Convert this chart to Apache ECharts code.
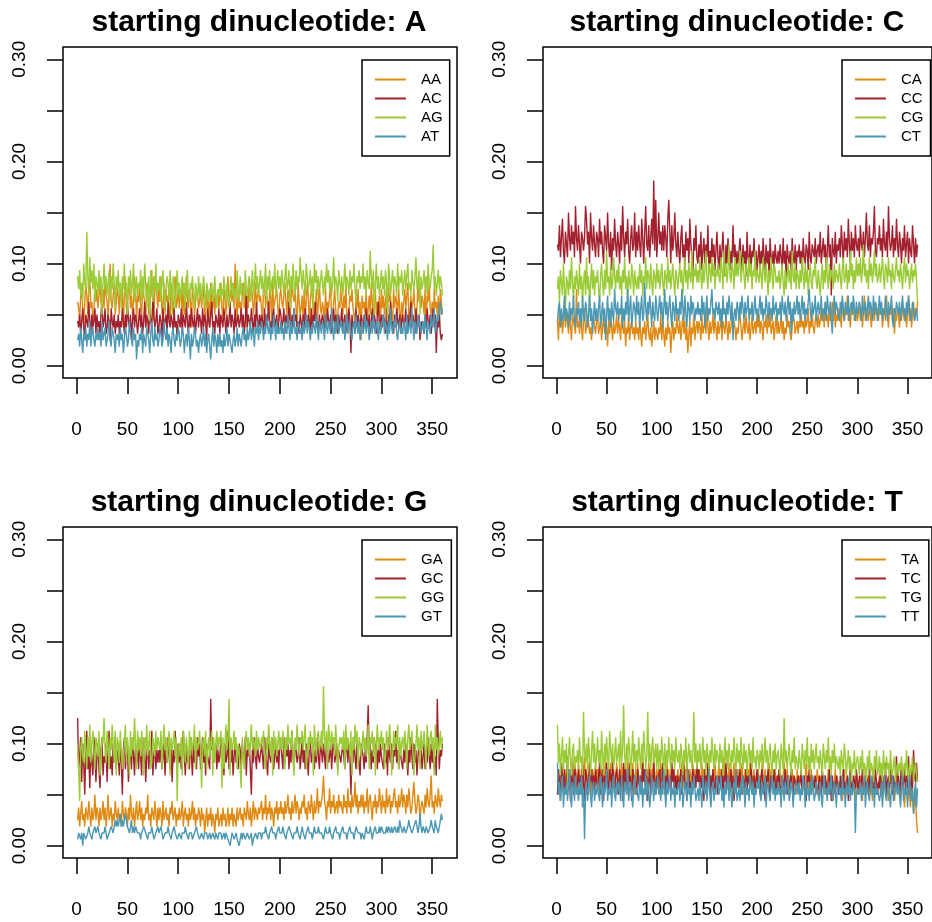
<!DOCTYPE html>
<html>
<head>
<meta charset="utf-8">
<script src="https://cdn.jsdelivr.net/npm/echarts@6/dist/echarts.min.js"></script>
<style>
  html, body { margin: 0; padding: 0; background: #fff; }
  #chart { width: 932px; height: 922px; }
</style>
</head>
<body>
<div id="chart"></div>
<script>
// Dinucleotide counts per sliding window (window of 160 dinucleotides),
// one value per window position 1..360.
const WINDOW = 160;

const xTicks = [0, 50, 100, 150, 200, 250, 300, 350];
const yTicks = [0, 0.05, 0.1, 0.15, 0.2, 0.25, 0.3];
const yLabels = [0, 0.1, 0.2, 0.3];

const lineColors = ['#E08A13', '#A3212F', '#9BCB36', '#4A98B3'];

// ---- starting dinucleotide: A ----
const AA = [
10,9,7,11,12,9,6,10,13,11,8,12,14,9,10,7,8,13,10,12,
9,11,13,10,8,12,9,14,11,10,7,12,16,10,9,11,13,8,10,12,
11,8,13,10,12,6,11,14,9,10,12,13,9,11,8,10,14,12,7,11,
10,13,9,8,12,11,10,6,13,12,8,10,11,15,9,7,12,13,11,9,
12,10,14,8,9,13,8,12,10,11,9,7,13,10,8,11,14,9,10,12,
9,11,12,7,13,8,10,14,11,9,12,10,6,13,11,8,10,12,11,9,
10,12,9,11,13,7,8,12,9,10,6,13,10,9,12,8,11,10,12,9,
11,13,9,7,12,11,8,10,14,9,11,12,10,13,9,16,10,7,12,9,
10,8,11,13,9,12,6,11,9,14,10,12,11,8,10,13,9,11,12,10,
11,9,7,12,13,9,11,10,8,12,11,6,13,9,10,11,12,9,7,11,
12,10,9,11,13,10,8,12,11,7,10,14,11,10,12,9,6,13,10,8,
9,11,7,12,8,10,13,11,6,10,12,11,8,10,9,12,7,10,13,9,
8,10,9,6,12,8,10,9,11,13,7,8,10,12,9,6,8,10,9,12,
10,8,11,9,13,7,8,9,11,10,12,9,8,6,11,9,12,8,10,4,
11,9,10,8,12,6,9,11,8,13,10,7,11,12,8,10,9,11,6,12,
9,11,8,10,12,7,13,10,11,8,6,12,9,11,10,8,12,9,5,10,
8,10,12,9,11,13,7,8,11,9,10,12,8,6,9,13,10,12,9,11,
10,8,12,6,11,10,13,9,8,10,7,12,9,10,8,11,6,12,10,8
];
const AC = [
7,6,8,5,7,9,6,4,8,7,6,10,7,5,8,6,7,9,5,8,
6,7,5,8,10,6,7,9,5,6,8,7,4,9,7,6,8,5,7,6,
8,5,7,6,9,7,5,8,6,10,7,6,8,4,7,9,6,8,7,5,
7,9,6,8,5,7,10,6,8,7,5,9,7,6,11,8,6,7,9,5,
6,8,7,4,9,6,7,8,5,10,7,6,8,7,5,9,6,7,4,8,
7,6,9,5,8,7,6,10,7,5,8,6,9,7,6,8,5,7,9,6,
8,7,5,9,6,8,7,4,9,7,6,8,10,6,7,5,8,7,6,9,
5,8,7,6,9,7,5,8,6,7,10,6,8,7,5,9,6,7,8,6,
7,9,6,8,5,7,11,6,8,7,6,9,7,5,8,6,10,7,6,8,
6,8,7,5,9,6,8,7,10,6,7,5,8,9,6,7,8,5,7,9,
8,6,7,9,5,8,7,6,10,7,5,8,6,9,7,8,6,7,5,8,
7,5,8,6,9,7,6,8,7,5,9,6,8,7,10,6,7,5,8,6,
6,8,7,5,8,6,9,7,6,8,5,7,9,6,8,7,5,8,6,7,
9,6,7,8,5,7,6,9,7,2,8,6,7,5,9,6,8,7,6,8,
7,5,8,6,9,7,6,8,5,7,9,6,8,7,5,8,10,6,7,8,
6,8,7,5,9,6,8,7,10,6,7,5,8,6,9,7,6,8,5,7,
8,6,7,9,5,8,6,7,10,6,8,7,5,9,6,7,8,4,6,7,
7,5,8,6,9,7,6,8,5,7,9,6,8,2,7,6,8,5,4,5
];
const AG = [
14,12,15,11,13,10,16,13,12,21,14,11,17,13,15,12,16,10,14,13,
11,15,12,14,8,13,16,12,14,11,13,15,10,14,12,16,13,9,14,12,
15,11,13,9,14,12,16,11,13,8,14,12,15,11,13,16,10,12,14,11,
13,12,15,10,14,11,16,13,9,12,14,7,15,13,10,14,12,16,11,13,
12,14,10,13,15,11,9,12,14,13,10,15,12,8,14,13,9,12,15,11,
13,10,12,14,11,13,9,12,15,11,10,13,12,14,11,9,13,12,10,14,
11,13,10,12,14,11,9,13,12,10,12,11,13,10,12,14,11,9,12,11,
13,10,12,11,14,12,10,13,11,9,12,14,11,13,10,12,11,15,12,10,
14,11,13,12,10,15,12,11,13,14,10,12,15,11,13,16,12,14,11,13,
15,12,14,11,13,16,10,14,12,15,11,13,14,12,16,11,13,15,12,14,
12,15,13,11,14,16,12,13,15,9,14,12,16,13,11,15,12,14,13,17,
14,12,15,13,11,16,14,12,13,15,11,14,9,16,13,15,11,14,12,13,
15,13,11,14,12,16,13,15,12,14,11,13,17,12,14,13,10,15,13,12,
14,11,13,16,12,14,13,11,15,12,14,13,16,12,10,14,13,15,12,14,
13,16,12,14,11,15,13,12,18,14,12,15,8,13,16,12,14,11,13,15,
12,14,11,15,13,7,16,14,11,13,15,12,14,13,11,16,12,14,13,15,
11,13,15,12,14,16,12,13,11,15,13,12,14,17,12,13,15,8,14,12,
13,15,12,14,11,16,13,12,14,15,19,12,14,11,13,15,12,14,13,11
];
const AT = [
4,5,3,6,4,2,5,4,6,3,5,4,7,3,5,6,4,3,5,4,
6,4,5,3,7,4,5,6,3,4,5,7,4,3,6,5,4,2,5,4,
5,3,6,4,5,2,4,6,5,3,4,7,5,4,3,6,4,5,1,4,
3,5,4,6,2,5,4,3,6,5,4,2,5,7,4,3,6,4,5,3,
4,6,5,3,4,7,5,4,6,3,5,4,2,5,6,4,3,5,4,6,
5,3,4,6,5,2,4,5,3,6,4,1,5,3,4,6,5,3,4,2,
4,5,3,4,6,3,5,2,4,5,3,1,4,6,3,5,4,2,5,3,
5,3,4,2,5,3,4,6,3,5,4,3,2,4,5,3,4,6,3,5,
4,3,5,6,4,5,3,6,4,5,7,4,6,5,3,6,5,7,4,6,
5,7,6,4,6,5,8,6,5,7,4,6,5,8,6,4,7,5,6,5,
7,5,6,4,7,6,5,8,6,4,7,5,6,9,5,6,4,7,6,5,
6,4,7,5,6,8,5,7,6,4,6,5,7,6,5,8,6,4,7,6,
5,7,6,4,8,6,5,7,6,5,9,6,4,7,5,6,8,5,6,7,
6,5,7,4,6,8,5,6,7,5,4,6,7,5,8,6,5,7,4,6,
7,5,6,8,5,7,6,4,6,7,5,8,6,5,7,6,4,7,5,6,
6,8,5,7,6,4,7,5,9,6,5,7,6,8,5,4,6,7,5,6,
5,7,6,4,8,5,6,7,5,9,6,4,7,6,5,8,6,7,5,6,
7,5,8,6,4,7,6,5,8,6,7,9,5,6,8,7,9,10,8,9
];

// ---- starting dinucleotide: C ----
const CA = [
7,4,9,6,8,5,7,10,6,8,7,5,9,6,4,8,7,6,5,12,
6,7,5,8,6,4,7,9,5,6,8,7,5,6,4,7,8,6,5,7,
8,5,6,7,4,6,8,5,7,6,3,7,5,8,6,4,7,5,6,8,
5,7,6,4,8,6,5,7,3,6,5,8,4,6,7,5,6,4,7,5,
6,4,7,5,3,6,5,7,4,6,8,5,4,6,3,5,7,4,6,5,
4,6,5,8,4,7,5,3,6,4,7,5,6,2,5,7,4,6,5,8,
6,5,7,4,6,8,5,7,4,6,2,5,7,3,6,5,8,4,6,7,
5,7,6,4,8,5,6,7,5,9,6,4,7,5,6,8,5,7,6,4,
7,5,6,8,4,7,6,5,8,6,4,7,5,6,9,5,7,6,4,6,
5,7,8,6,4,6,7,5,8,6,5,7,4,6,8,5,6,7,5,8,
6,8,5,7,6,4,7,6,8,5,7,6,9,5,6,7,4,6,8,5,
7,5,6,8,5,7,4,6,5,8,6,7,5,4,6,8,7,5,6,7,
5,7,6,8,6,7,5,8,6,7,9,5,7,6,8,6,5,7,8,6,
8,6,7,9,7,8,6,10,7,8,6,9,7,8,10,7,9,6,8,7,
9,7,8,6,10,8,7,9,8,11,7,8,6,9,8,10,7,9,8,7,
8,10,7,9,6,8,11,7,9,8,7,10,8,6,9,8,7,10,8,9,
7,9,8,10,6,8,9,7,11,8,6,9,8,10,7,9,5,8,7,9,
8,6,9,7,10,8,7,9,6,8,11,7,9,6,8,10,7,9,8,10
];
const CC = [
19,18,22,17,20,23,18,16,21,19,17,24,20,18,22,19,21,17,25,20,
18,22,19,16,21,20,18,20,25,23,19,21,16,24,20,18,22,19,17,21,
20,17,23,19,21,18,16,22,20,18,24,19,17,21,15,20,18,23,19,17,
21,19,16,22,18,25,20,17,21,19,23,18,16,20,22,18,19,24,17,21,
18,22,19,17,23,20,16,21,25,19,18,22,17,20,23,19,29,18,26,17,
20,24,19,21,18,22,18,22,20,17,23,26,21,16,22,18,20,24,19,17,
21,18,16,20,22,17,19,15,21,18,20,16,23,19,17,14,20,18,22,17,
16,19,17,21,15,18,20,16,19,17,22,15,18,16,20,17,19,15,18,21,
17,15,19,16,18,21,17,14,19,16,20,17,15,18,16,22,17,19,15,18,
16,18,20,17,15,19,16,18,14,21,17,16,19,15,18,17,20,16,18,15,
17,19,15,18,16,20,17,15,19,16,18,14,20,17,16,18,15,19,17,16,
18,16,19,17,15,20,16,18,14,19,17,16,18,15,20,17,16,19,15,18,
17,19,16,18,15,20,17,16,19,18,15,21,17,16,19,18,17,20,16,18,
19,17,21,16,18,20,17,19,15,18,22,17,19,11,20,18,17,21,16,19,
18,20,17,22,19,16,21,18,20,17,23,19,16,21,18,20,17,22,19,18,
20,17,22,19,18,21,17,20,24,19,18,22,17,20,19,21,25,18,17,20,
19,22,18,20,17,23,19,18,21,17,25,20,18,19,22,17,20,18,23,19,
17,21,19,16,20,18,22,17,19,21,16,20,18,17,22,19,16,20,17,19
];
const CG = [
12,14,10,15,13,11,16,12,9,14,13,11,15,12,17,13,10,14,12,15,
13,11,16,12,14,10,13,15,11,17,12,14,9,13,16,12,15,11,14,13,
15,12,10,14,16,13,11,15,12,18,13,14,11,16,12,13,17,14,12,15,
13,16,12,14,11,15,13,17,12,14,10,15,13,12,16,14,11,15,13,12,
14,12,16,13,15,11,14,13,17,12,15,14,12,16,13,11,15,14,12,16,
13,15,12,14,16,13,11,15,14,12,17,13,15,12,14,16,13,11,15,14,
12,14,16,13,15,11,14,17,13,15,12,16,14,13,18,12,15,14,16,13,
15,13,17,14,12,16,13,15,18,14,12,16,15,13,17,14,16,12,15,14,
16,14,13,17,15,12,18,14,16,13,15,19,14,13,16,15,12,17,14,16,
14,16,18,13,15,17,14,12,16,15,13,17,14,16,12,15,14,18,13,15,
15,13,16,14,12,17,15,13,16,14,11,15,13,17,14,12,16,15,13,14,
13,15,12,14,16,13,11,15,12,14,16,13,15,12,18,14,13,16,12,15,
14,12,15,13,17,14,12,16,13,15,11,14,16,13,12,15,14,17,13,12,
15,13,11,14,16,12,15,13,17,14,12,16,13,15,14,12,16,13,15,14,
13,16,14,12,15,17,13,14,16,12,15,13,18,14,16,12,15,13,17,14,
16,14,17,13,15,19,14,16,13,15,12,17,14,16,13,15,18,14,16,13,
14,16,13,15,17,14,12,16,15,13,17,14,15,12,16,14,13,15,17,14,
15,13,16,14,12,15,17,13,16,14,15,12,14,16,13,15,14,16,13,10
];
const CT = [
7,9,10,6,9,7,8,11,7,9,8,6,10,7,9,8,11,7,6,9,
8,10,7,9,6,11,8,7,10,9,6,8,11,7,9,5,8,10,7,9,
7,9,11,6,8,10,7,9,4,8,11,7,9,6,10,8,7,12,9,8,
10,7,9,8,11,6,9,7,10,8,12,7,9,11,6,8,10,9,7,11,
8,10,6,9,11,7,8,13,9,7,10,8,11,9,6,10,8,7,11,9,
7,9,11,8,10,6,9,12,8,10,7,9,11,8,6,10,9,7,11,8,
9,7,10,8,12,9,7,11,8,6,10,9,7,11,8,10,9,7,9,8,
10,8,9,7,11,8,10,6,9,11,7,9,8,10,12,8,9,7,10,9,
8,10,7,9,6,11,8,9,7,10,8,11,9,7,10,4,8,9,7,10,
9,7,10,8,11,9,7,10,8,9,11,7,9,8,10,7,9,11,8,9,
7,9,11,8,10,7,9,8,11,9,7,10,8,9,7,11,8,9,10,7,
9,8,10,7,11,9,8,10,7,9,11,8,10,5,9,7,10,8,9,11,
8,10,7,9,11,8,10,7,9,8,10,12,9,7,10,8,9,11,7,9,
10,8,9,11,7,9,8,10,7,11,9,8,10,7,5,9,11,8,10,9,
9,7,10,8,11,9,7,10,9,8,11,7,9,10,8,11,9,7,10,8,
8,10,9,7,11,8,9,10,7,9,11,8,10,9,7,11,8,10,9,7,
9,11,8,10,7,9,8,11,9,7,10,8,9,11,7,6,9,8,10,9,
8,10,7,9,11,8,9,7,10,8,11,9,7,8,10,9,7,8,9,7
];

// ---- starting dinucleotide: G ----
const GA = [
4,6,3,5,7,4,5,3,6,5,4,7,5,3,6,4,5,8,4,6,
5,3,6,4,5,7,4,6,3,5,8,4,5,6,3,5,4,7,5,4,
6,4,5,3,7,5,4,6,5,3,6,4,8,5,4,6,3,5,7,4,
5,7,4,6,3,5,4,6,5,8,4,5,3,6,5,4,7,5,3,6,
4,6,5,3,7,4,5,6,4,5,3,6,5,7,4,5,6,3,5,4,
6,4,5,7,3,5,6,4,5,3,6,4,5,7,4,6,3,5,4,6,
5,3,6,4,5,2,4,6,3,5,4,6,3,5,4,2,5,4,6,3,
4,5,3,6,4,5,3,4,6,3,5,4,6,3,5,4,3,6,4,5,
6,4,5,3,6,5,4,7,5,4,6,3,5,7,4,6,5,4,6,5,
5,7,4,6,5,8,4,6,5,7,4,6,5,3,6,5,7,4,6,5,
7,5,6,4,7,5,6,8,5,6,4,7,5,6,8,5,7,6,4,6,
5,7,6,8,5,6,4,7,6,5,8,6,4,7,5,6,9,5,7,6,
6,8,11,7,6,4,7,6,9,5,7,6,8,5,6,7,5,8,6,7,
7,5,8,6,7,5,9,6,7,5,8,6,7,10,6,8,5,7,6,8,
6,8,5,7,6,9,5,7,8,6,4,7,6,8,5,7,6,9,7,5,
8,6,7,5,9,6,7,8,5,7,6,8,9,6,7,5,8,6,7,9,
6,8,7,5,8,6,9,7,5,6,8,10,7,5,6,8,7,4,6,7,
7,5,8,6,9,7,6,8,11,6,7,5,8,7,6,9,7,6,8,7
];
const GC = [
20,12,14,17,10,16,13,8,15,18,12,14,9,16,13,11,17,15,10,14,
16,12,9,15,17,11,14,13,16,10,15,18,12,14,11,16,13,17,12,15,
14,11,16,13,8,15,17,12,14,16,10,13,15,12,17,14,11,16,13,15,
12,16,14,11,17,13,15,10,14,16,12,15,13,18,11,14,16,12,15,13,
15,13,17,12,14,16,11,15,13,17,14,12,16,10,15,13,18,14,12,16,
13,16,12,15,18,14,11,16,13,15,12,17,14,11,16,13,15,12,17,14,
16,12,14,17,13,15,11,16,14,13,12,23,15,17,13,14,16,12,15,13,
14,17,13,15,11,16,13,14,18,12,15,13,16,11,14,17,13,15,12,16,
15,12,16,14,13,17,11,15,14,16,12,8,15,13,17,14,12,16,14,13,
13,16,14,12,17,15,13,11,16,14,13,17,15,12,14,16,13,15,12,17,
16,14,12,17,13,15,14,16,12,15,13,18,14,12,16,15,13,14,17,12,
14,17,13,15,12,16,14,11,15,17,13,14,16,12,15,13,17,14,12,16,
15,13,16,14,12,17,15,13,14,16,12,15,17,13,14,16,12,15,14,13,
13,16,14,12,17,15,13,16,14,8,15,13,17,14,12,16,15,13,11,16,
16,14,12,15,13,17,22,14,16,12,15,13,17,14,16,12,15,13,16,14,
14,12,16,13,15,11,17,14,13,16,12,15,14,18,13,15,12,16,14,13,
12,15,13,16,14,11,15,13,17,14,12,16,13,15,11,14,16,13,15,12,
14,16,12,15,13,17,14,12,16,13,15,12,14,11,23,16,12,15,14,16
];
const GG = [
16,12,7,15,17,14,13,18,15,12,17,14,19,13,16,18,15,12,17,16,
14,18,11,13,17,16,20,15,13,18,16,12,17,15,19,16,13,18,11,17,
16,13,18,15,12,14,16,19,13,17,15,11,18,14,17,15,20,16,12,18,
15,17,14,18,16,11,17,15,19,14,16,18,12,13,17,16,14,18,15,17,
17,15,18,12,16,19,15,17,13,16,18,11,17,15,16,18,14,17,7,15,
16,14,17,11,18,16,13,17,15,12,18,14,17,15,16,19,12,17,15,16,
18,15,9,16,17,14,18,12,15,17,14,16,18,11,17,13,16,18,15,17,
16,18,9,17,12,16,19,15,17,23,11,17,15,16,18,15,17,12,16,15,
15,9,17,14,12,16,18,15,17,14,16,19,15,17,16,14,18,15,17,16,
15,17,16,18,14,12,17,15,19,16,14,17,11,18,15,17,14,16,18,15,
17,15,18,16,12,17,15,19,16,17,15,18,14,11,17,15,19,16,14,17,
16,18,15,17,19,12,14,17,15,18,16,17,11,19,16,14,17,18,15,16,
18,15,25,17,15,18,12,19,17,15,18,16,17,14,19,16,11,15,17,16,
17,15,18,12,19,15,17,16,14,18,11,17,15,19,16,18,12,17,16,14,
16,18,15,17,14,16,19,12,17,16,18,14,17,11,16,19,15,17,16,18,
15,17,12,14,18,16,15,19,17,11,14,18,15,17,16,19,12,17,14,16,
17,15,18,16,12,17,19,15,16,18,15,11,14,16,19,15,17,12,18,15,
16,18,15,12,19,16,14,17,18,15,17,11,19,15,17,14,16,18,15,17
];
const GT = [
1,2,2,1,2,0,2,2,1,1,2,3,2,2,1,2,2,3,2,2,
3,2,2,1,2,2,2,3,2,1,1,2,2,3,3,2,3,4,3,4,
3,4,5,3,4,3,4,5,4,3,3,2,3,4,2,3,2,3,3,2,
2,2,1,2,2,3,3,2,2,1,2,2,2,3,2,1,1,2,2,3,
2,2,3,2,1,1,2,2,2,3,2,2,1,2,2,3,2,2,1,1,
2,2,1,2,2,2,3,2,2,1,2,2,2,1,1,2,2,3,2,2,
1,1,2,2,1,2,2,2,1,1,2,1,1,2,2,1,2,2,1,2,
2,2,1,1,2,1,2,2,1,1,0,1,2,2,1,1,2,1,1,0,
1,2,1,2,2,1,1,2,2,1,1,2,0,1,1,2,2,1,2,2,
2,1,2,2,2,3,2,2,1,2,2,3,2,2,2,1,2,2,3,2,
2,2,3,2,2,1,2,2,3,3,2,2,1,2,2,2,3,2,2,1,
2,3,2,2,1,2,2,3,2,2,2,1,2,3,2,2,2,3,2,2,
2,2,1,2,3,2,2,2,3,2,2,1,2,2,3,2,2,2,1,2,
2,3,2,2,2,1,2,2,3,2,2,2,1,2,3,3,2,2,2,1,
2,2,1,2,3,2,2,2,3,2,1,2,2,3,2,2,2,3,2,3,
3,2,2,2,3,2,3,3,2,3,2,2,3,3,2,3,2,4,3,3,
2,3,3,2,2,3,4,3,3,2,2,3,3,4,3,2,3,5,3,2,
3,3,2,3,3,2,2,3,4,3,3,2,4,3,3,2,3,3,5,4
];

// ---- starting dinucleotide: T ----
const TA = [
10,12,9,11,13,10,8,12,11,9,13,10,12,9,11,14,10,8,12,11,
9,13,11,10,12,8,11,14,10,12,9,11,13,10,8,12,11,9,13,10,
12,10,8,13,11,9,12,10,14,11,9,12,10,13,8,11,12,10,9,13,
11,9,12,10,13,11,8,12,10,9,14,11,10,12,9,13,11,8,12,10,
13,10,11,9,12,14,10,11,8,12,10,13,11,9,12,10,15,11,9,12,
10,12,9,13,11,10,12,8,11,14,10,12,9,11,13,10,12,9,11,10,
12,9,11,10,13,11,9,12,10,14,11,9,12,10,11,13,9,12,10,11,
10,12,11,9,13,10,12,8,11,10,12,14,10,11,9,12,10,13,11,9,
11,13,10,12,9,11,14,10,12,11,9,13,10,12,8,11,13,10,9,12,
10,12,9,11,13,10,8,12,11,9,12,10,13,9,11,10,12,8,11,10,
12,10,11,9,13,11,10,12,8,11,10,13,9,12,10,11,9,12,10,8,
11,9,12,10,8,11,13,10,9,12,10,8,11,10,12,9,11,10,8,12,
9,11,10,12,8,10,9,11,13,10,8,11,9,12,10,8,11,9,10,12,
10,8,11,9,12,10,8,11,10,9,12,8,10,11,9,7,10,12,9,11,
8,10,9,11,7,10,12,9,8,11,10,9,12,8,10,9,11,7,10,9,
10,8,11,9,7,10,9,12,8,10,11,9,8,10,7,11,9,10,8,9,
9,11,8,10,7,9,11,8,10,9,7,10,12,8,9,10,7,9,11,8,
8,10,7,9,11,8,6,9,10,7,9,8,6,10,8,5,9,7,4,2
];
const TC = [
8,12,10,7,13,11,9,12,8,10,14,9,11,7,12,10,8,13,11,9,
10,12,8,11,9,13,10,7,12,11,9,8,13,10,12,9,11,8,12,10,
9,11,13,8,10,12,7,11,9,13,10,8,12,11,9,14,10,8,11,12,
10,8,12,9,11,7,13,10,12,8,11,9,13,10,7,12,11,9,10,8,
12,10,9,11,8,13,10,12,9,11,7,10,12,8,11,9,13,10,8,11,
9,11,12,8,10,13,9,11,7,12,10,9,11,8,13,10,12,9,11,8,
11,9,10,12,8,11,13,9,10,7,12,11,9,10,8,12,10,11,9,13,
10,12,8,11,9,10,7,12,11,9,13,10,8,11,9,12,10,8,11,10,
8,11,10,9,12,8,11,10,13,9,11,8,10,12,9,11,7,10,12,9,
11,9,12,10,8,11,10,9,12,8,11,10,9,13,10,8,11,9,10,12,
9,10,8,11,12,9,10,7,11,10,12,9,8,11,10,9,12,10,8,11,
10,12,9,8,11,10,9,12,10,8,11,9,10,12,9,7,11,10,9,10,
11,9,10,12,8,10,11,9,7,11,10,12,9,8,11,10,9,11,10,8,
9,11,10,8,12,9,10,11,8,10,9,12,10,7,11,9,10,8,11,10,
10,8,11,9,10,12,8,10,9,11,7,10,12,9,8,11,10,9,12,10,
8,11,9,10,12,8,10,9,11,10,8,12,9,10,11,8,9,12,10,8,
10,9,12,8,11,10,9,13,8,10,11,9,12,10,8,11,9,10,14,9,
11,8,10,13,9,10,12,8,11,9,14,10,8,12,9,15,11,10,13,10
];
const TG = [
19,13,16,11,14,17,12,15,13,16,10,14,17,13,11,15,16,12,14,13,
15,12,17,13,14,11,21,15,13,16,12,17,14,11,15,18,13,16,12,14,
17,13,15,12,18,14,11,16,13,17,14,12,18,15,13,16,12,14,17,13,
14,16,12,18,13,15,22,14,12,16,13,17,15,11,14,18,13,16,12,15,
13,17,14,12,16,13,18,15,12,14,21,13,16,12,15,17,13,14,16,12,
16,12,15,13,17,14,12,16,11,15,13,17,14,12,16,13,15,12,17,14,
13,15,12,16,14,11,15,13,17,12,14,16,13,15,12,14,21,13,16,12,
15,13,16,12,14,17,13,15,11,16,14,12,15,13,17,14,12,16,13,15,
14,12,16,13,15,11,14,17,13,15,12,16,14,12,15,13,17,14,12,16,
13,15,12,17,14,12,16,13,15,11,14,16,13,15,12,17,13,14,12,15,
14,12,15,13,16,12,14,17,13,15,12,14,16,13,11,15,13,16,12,14,
15,13,11,16,14,12,20,13,15,12,14,16,13,11,15,13,17,12,14,13,
12,15,13,11,16,14,12,15,13,17,12,14,11,16,13,15,12,14,16,13,
14,12,15,13,11,16,14,12,15,13,17,12,14,11,15,13,16,12,14,13,
12,14,11,15,13,12,16,14,11,13,15,12,14,10,13,12,15,11,13,14,
13,11,14,12,15,11,13,12,10,14,12,15,11,13,12,10,14,12,15,11,
12,14,11,13,10,15,12,11,14,12,13,10,15,12,11,13,14,10,12,13,
11,13,12,14,10,12,13,11,15,12,10,13,11,12,14,10,12,13,11,10
];
const TT = [
13,8,10,7,9,11,6,9,8,10,7,9,12,8,6,10,9,7,11,8,
9,7,10,8,11,6,9,1,8,10,7,9,11,8,6,9,10,7,9,8,
10,8,7,11,9,6,10,8,9,12,7,9,8,10,6,9,11,8,7,10,
8,10,9,7,11,8,6,10,9,8,12,7,9,10,8,6,9,11,8,9,
9,7,11,8,10,6,9,8,12,7,10,9,6,8,11,9,7,10,8,9,
11,8,9,7,10,8,12,9,6,10,8,9,11,7,9,8,10,6,9,8,
8,10,7,9,11,6,8,10,9,7,12,8,9,6,10,8,11,9,7,8,
9,7,10,8,6,11,9,8,10,7,9,12,8,6,9,10,7,9,8,11,
10,8,9,11,7,9,6,10,8,9,11,7,10,8,6,9,10,8,12,7,
8,9,7,10,8,11,9,6,10,8,9,7,11,9,8,10,6,9,8,10,
9,11,8,7,10,8,9,11,6,9,10,8,7,9,11,8,10,7,9,8,
10,8,9,6,11,9,7,10,8,9,11,7,8,10,9,6,9,8,10,9,
8,10,7,9,8,11,9,6,10,8,9,7,10,8,11,9,7,8,10,9,
9,7,10,8,6,9,11,8,9,7,10,8,9,11,7,8,10,9,6,9,
10,8,9,7,11,8,9,6,10,9,8,11,7,9,8,10,9,2,8,9,
8,9,10,7,9,8,11,6,9,10,8,7,9,11,8,9,6,10,8,9,
9,7,8,10,6,9,11,8,7,9,10,8,6,9,11,7,8,10,9,8,
10,8,6,9,11,7,9,8,10,6,9,11,8,7,9,5,8,10,6,9
];

const panels = [
  { title: 'starting dinucleotide: A', names: ['AA', 'AC', 'AG', 'AT'], counts: [AA, AC, AG, AT] },
  { title: 'starting dinucleotide: C', names: ['CA', 'CC', 'CG', 'CT'], counts: [CA, CC, CG, CT] },
  { title: 'starting dinucleotide: G', names: ['GA', 'GC', 'GG', 'GT'], counts: [GA, GC, GG, GT] },
  { title: 'starting dinucleotide: T', names: ['TA', 'TC', 'TG', 'TT'], counts: [TA, TC, TG, TT] }
];

const FONT = '"Liberation Sans", Arial, Helvetica, sans-serif';
const STEP = 480;           // distance between neighbouring panels
const BOX = { left: 63, top: 47, width: 394, height: 331 };
const TITLE_X = [259, 737];

const grids = [], xAxes = [], yAxes = [], legends = [], series = [], graphics = [];

panels.forEach((panel, p) => {
  const col = p % 2, row = Math.floor(p / 2);
  const ox = col * STEP, oy = row * STEP;

  grids.push({
    left: BOX.left + ox, top: BOX.top + oy, width: BOX.width, height: BOX.height,
    show: true, borderColor: '#000', borderWidth: 1.5, backgroundColor: 'transparent'
  });

  // axes sit on the box edges, ticks point outwards
  xAxes.push({
    type: 'value', gridIndex: p, min: -13.4, max: 374.4, position: 'bottom',
    axisLine: { show: false, onZero: false }, splitLine: { show: false },
    axisTick: { show: true, inside: false, customValues: xTicks, length: 16, lineStyle: { color: '#000', width: 1.5 } },
    axisLabel: { customValues: xTicks, margin: 42, fontSize: 19, color: '#000', fontFamily: FONT }
  });

  yAxes.push({
    type: 'value', gridIndex: p, min: -0.012, max: 0.312, position: 'left',
    axisLine: { show: false, onZero: false }, splitLine: { show: false },
    axisTick: { show: true, inside: false, customValues: yTicks, length: 16, lineStyle: { color: '#000', width: 1.5 } },
    axisLabel: {
      customValues: yLabels, rotate: 90, margin: 34, fontSize: 19, color: '#000', fontFamily: FONT,
      formatter: v => v.toFixed(2)
    }
  });

  legends.push({
    left: 362 + ox, top: 60 + oy, orient: 'vertical',
    data: panel.names, icon: 'rect', itemWidth: 31, itemHeight: 2, itemGap: 0,
    padding: [10, 7, 10, 13], borderColor: '#000', borderWidth: 1.5, borderRadius: 0,
    backgroundColor: '#fff', selectedMode: false,
    textStyle: { fontFamily: FONT, fontSize: 15, color: '#000', lineHeight: 19, padding: [0, 0, 0, 10] }
  });

  panel.names.forEach((name, s) => {
    series.push({
      type: 'line', name, xAxisIndex: p, yAxisIndex: p,
      color: lineColors[s], showSymbol: false, symbol: 'none', silent: true,
      lineStyle: { width: 1.4, color: lineColors[s] },
      data: panel.counts[s].map((k, i) => [i + 1, k / WINDOW])
    });
  });

  graphics.push({
    type: 'text', x: TITLE_X[col], y: 23 + oy,
    style: { text: panel.title, font: 'bold 30px ' + FONT, fill: '#000', align: 'center', verticalAlign: 'middle' }
  });
});

const chart = echarts.init(document.getElementById('chart'), null, { renderer: 'canvas' });
chart.setOption({
  animation: false,
  backgroundColor: '#fff',
  grid: grids, xAxis: xAxes, yAxis: yAxes, legend: legends, series: series, graphic: graphics
});
</script>
</body>
</html>
